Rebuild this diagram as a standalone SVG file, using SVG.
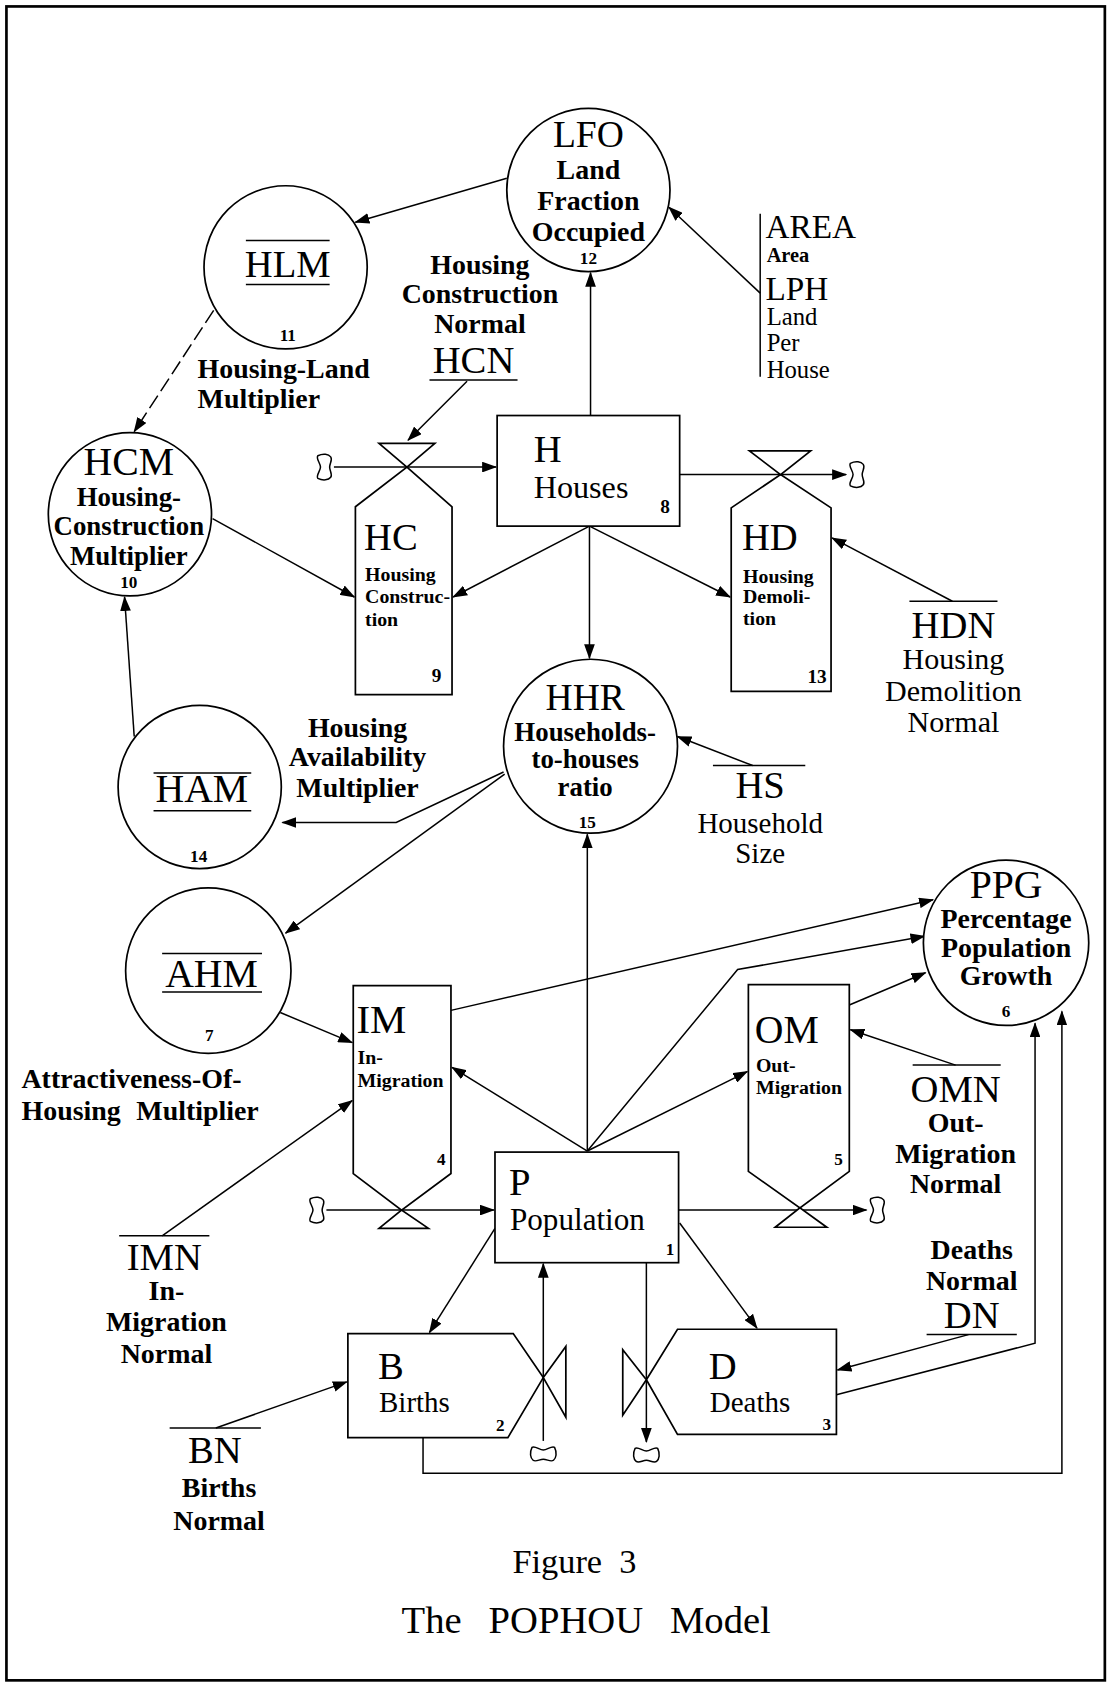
<svg xmlns="http://www.w3.org/2000/svg" width="1107" height="1684" viewBox="0 0 1107 1684">
<defs>
<style>
text{font-family:'Liberation Serif','Times New Roman',serif;fill:#000}
.c{font-size:36px}
.l{font-size:26px;font-weight:bold}
.r{font-size:28px}
.s{font-size:18.5px;font-weight:bold}
.n{font-size:16px;font-weight:bold}
.m{text-anchor:middle}
.ln{fill:none;stroke:#000;stroke-width:1.4}
.a{marker-end:url(#ah)}
.sh{fill:#fff;stroke:#000;stroke-width:1.6}
.d{stroke-dasharray:14 5}
</style>
<marker id="ah" markerWidth="14" markerHeight="10" refX="13" refY="5" orient="auto" markerUnits="userSpaceOnUse"><path d="M0,0 L14,5 L0,10 Z" fill="#000"/></marker>
<path id="cl" d="M-6,-10.5 C-1,-13 4,-12 6,-9.5 C8,-7 5,-3.5 5,0 C5,3.5 8,7 6,9.5 C4,12 -1,13 -6,10.5 C-8,8 -3.5,3.5 -3.5,0 C-3.5,-3.5 -8,-8 -6,-10.5 Z" fill="#fff" stroke="#000" stroke-width="1.4"/>
</defs>
<rect width="1107" height="1684" fill="#fff"/>
<g transform="scale(1.07371)">
<rect x="6" y="6" width="1023" height="1559" fill="none" stroke="#000" stroke-width="2.5"/>
<g id="connectors">
<path class="ln a" d="M550,387 L550,254"/>
<path class="ln a" d="M472,166 L331,207"/>
<path class="ln a" d="M708,273 L623,193"/>
<path class="ln a d" d="M199,289 L125,402"/>
<path class="ln a" d="M435,355 L380,410"/>
<path class="ln a" d="M198,483 L330,556"/>
<path class="ln a" d="M549,490 L422,556"/>
<path class="ln a" d="M549,490 L680,556"/>
<path class="ln a" d="M549,490 L549,613"/>
<path class="ln a" d="M887,560 L775,501"/>
<path class="ln a" d="M701,713 L631,686"/>
<path class="ln a" d="M125,686 L116,556"/>
<path class="ln a" d="M469,719 L369,766 L263,766"/>
<path class="ln a" d="M470,721 L266,869"/>
<path class="ln a" d="M261,943 L328,971"/>
<path class="ln a" d="M151,1151 L328,1025"/>
<path class="ln a" d="M547,1072 L421,994"/>
<path class="ln a" d="M547,1072 L696,998"/>
<path class="ln a" d="M547,1072 L547,777"/>
<path class="ln a" d="M547,1072 L687,903 L861,872"/>
<path class="ln a" d="M420,941 L869,838"/>
<path class="ln a" d="M791,936 L862,906"/>
<path class="ln a" d="M890,992 L792,959"/>
<path class="ln a" d="M461,1144 L400,1241"/>
<path class="ln a" d="M633,1139 L705,1237"/>
<path class="ln a" d="M201,1330 L323,1287"/>
<path class="ln a" d="M902,1243 L780,1276"/>
<path class="ln a" d="M779,1299 L964,1251 L964,953"/>
<path class="ln a" d="M394,1339 L394,1372 L989,1372 L989,942"/>
<path class="ln a" d="M311,435 L462,435"/>
<path class="ln a" d="M632,442 L788,442"/>
<path class="ln a" d="M304,1127 L460,1127"/>
<path class="ln a" d="M632,1127 L807,1127"/>
<path class="ln a" d="M506,1342 L506,1177"/>
<path class="ln a" d="M602,1176 L602,1343"/>
</g>
<g id="clouds">
<use href="#cl" x="302" y="435"/>
<use href="#cl" x="798" y="442"/>
<use href="#cl" x="295" y="1127"/>
<use href="#cl" x="817" y="1127"/>
<use href="#cl" transform="translate(506,1354) rotate(90)"/>
<use href="#cl" transform="translate(602,1355) rotate(90)"/>
</g>
<g id="LFO">
<circle class="sh" cx="548" cy="177" r="76"/>
<text class="c m" x="548" y="137" style="font-size:35px">LFO</text>
<text class="l m" x="548" y="167">Land</text>
<text class="l m" x="548" y="196">Fraction</text>
<text class="l m" x="548" y="224">Occupied</text>
<text class="n m" x="548" y="246">12</text>
</g>
<g id="HLM">
<circle class="sh" cx="266" cy="249" r="76"/>
<line class="ln" x1="229" y1="224" x2="307" y2="224"/>
<text class="c m" x="268" y="258">HLM</text>
<line class="ln" x1="229" y1="265" x2="307" y2="265"/>
<text class="n m" x="268" y="318">11</text>
<text class="l" x="184" y="352">Housing-Land</text>
<text class="l" x="184" y="380">Multiplier</text>
</g>
<g id="AREA">
<line class="ln" x1="708" y1="199" x2="708" y2="351"/>
<text class="c" x="713" y="222" style="font-size:31px">AREA</text>
<text x="714" y="244" style="font-size:19px;font-weight:bold">Area</text>
<text class="c" x="713" y="279" style="font-size:31px">LPH</text>
<text x="714" y="303" style="font-size:23px">Land</text>
<text x="714" y="327" style="font-size:23px">Per</text>
<text x="714" y="352" style="font-size:23px">House</text>
</g>
<g id="HCN">
<text class="l m" x="447" y="255">Housing</text>
<text class="l m" x="447" y="282">Construction</text>
<text class="l m" x="447" y="310">Normal</text>
<text class="c m" x="441" y="347">HCN</text>
<line class="ln" x1="400" y1="354" x2="482" y2="354"/>
</g>
<g id="HCM">
<circle class="sh" cx="121" cy="479" r="76"/>
<text class="c m" x="120" y="442" style="font-size:37px">HCM</text>
<text class="l m" x="120" y="471" style="font-size:25px">Housing-</text>
<text class="l m" x="120" y="498" style="font-size:25px">Construction</text>
<text class="l m" x="120" y="526" style="font-size:25px">Multiplier</text>
<text class="n m" x="120" y="548">10</text>
</g>
<g id="H">
<rect class="sh" x="463" y="387" width="170" height="103"/>
<text class="c" x="497" y="430">H</text>
<text class="r" x="497" y="464" style="font-size:30px">Houses</text>
<text class="n" x="615" y="478" style="font-size:18px">8</text>
</g>
<g id="HC">
<polygon class="sh" points="331,647 331,472 379,435 421,472 421,647"/>
<polygon class="sh" points="353,413 405,413 379,435"/>
<text class="c" x="339" y="512">HC</text>
<text class="s" x="340" y="541">Housing</text>
<text class="s" x="340" y="562">Construc-</text>
<text class="s" x="340" y="583">tion</text>
<text class="n" x="402" y="635" style="font-size:18px">9</text>
</g>
<g id="HD">
<polygon class="sh" points="681,644 681,473 727,442 774,473 774,644"/>
<polygon class="sh" points="698,420 755,420 727,442"/>
<text class="c" x="691" y="512">HD</text>
<text class="s" x="692" y="543">Housing</text>
<text class="s" x="692" y="562">Demoli-</text>
<text class="s" x="692" y="582">tion</text>
<text class="n" x="752" y="636" style="font-size:18px">13</text>
</g>
<g id="HDN">
<line class="ln" x1="847" y1="560" x2="929" y2="560"/>
<text class="c m" x="888" y="594">HDN</text>
<text class="r m" x="888" y="623">Housing</text>
<text class="r m" x="888" y="653">Demolition</text>
<text class="r m" x="888" y="682">Normal</text>
</g>
<g id="HHR">
<circle class="sh" cx="550" cy="695" r="81"/>
<text class="c m" x="545" y="661" style="font-size:35px">HHR</text>
<text class="l m" x="545" y="690" style="font-size:25px">Households-</text>
<text class="l m" x="545" y="715" style="font-size:25px">to-houses</text>
<text class="l m" x="545" y="741" style="font-size:25px">ratio</text>
<text class="n m" x="547" y="771">15</text>
</g>
<g id="HS">
<line class="ln" x1="664" y1="713" x2="750" y2="713"/>
<text class="c m" x="708" y="743">HS</text>
<text class="r m" x="708" y="776" style="font-size:27px">Household</text>
<text class="r m" x="708" y="804" style="font-size:27px">Size</text>
</g>
<g id="HAM">
<circle class="sh" cx="186" cy="733" r="76"/>
<line class="ln" x1="143" y1="720" x2="234" y2="720"/>
<text class="c m" x="188" y="747" style="font-size:37px">HAM</text>
<line class="ln" x1="143" y1="755" x2="234" y2="755"/>
<text class="n m" x="185" y="803">14</text>
<text class="l m" x="333" y="686">Housing</text>
<text class="l m" x="333" y="713">Availability</text>
<text class="l m" x="333" y="742">Multiplier</text>
</g>
<g id="AHM">
<circle class="sh" cx="194" cy="904" r="77"/>
<line class="ln" x1="151" y1="888" x2="244" y2="888"/>
<text class="c m" x="197" y="919" style="font-size:37px">AHM</text>
<line class="ln" x1="151" y1="924" x2="244" y2="924"/>
<text class="n m" x="195" y="970">7</text>
<text class="l" x="20" y="1013">Attractiveness-Of-</text>
<text class="l" x="20" y="1043" style="word-spacing:8px">Housing Multiplier</text>
</g>
<g id="IM">
<polygon class="sh" points="329,918 420,918 420,1093 374,1127 329,1093"/>
<polygon class="sh" points="353,1144 399,1144 374,1127"/>
<text class="c" x="332" y="962" style="font-size:38px">IM</text>
<text class="s" x="333" y="991">In-</text>
<text class="s" x="333" y="1012">Migration</text>
<text class="n" x="407" y="1085">4</text>
</g>
<g id="OM">
<polygon class="sh" points="697,917 791,917 791,1091 745,1125 697,1091"/>
<polygon class="sh" points="722,1143 770,1143 745,1125"/>
<text class="c" x="703" y="971" style="font-size:37px">OM</text>
<text class="s" x="704" y="998">Out-</text>
<text class="s" x="704" y="1019">Migration</text>
<text class="n" x="777" y="1085">5</text>
</g>
<g id="PPG">
<circle class="sh" cx="937" cy="878" r="77"/>
<text class="c m" x="937" y="836" style="font-size:37px">PPG</text>
<text class="l m" x="937" y="864">Percentage</text>
<text class="l m" x="937" y="891">Population</text>
<text class="l m" x="937" y="917">Growth</text>
<text class="n m" x="937" y="947">6</text>
</g>
<g id="OMN">
<line class="ln" x1="850" y1="992" x2="932" y2="992"/>
<text class="c m" x="890" y="1026">OMN</text>
<text class="l m" x="890" y="1054">Out-</text>
<text class="l m" x="890" y="1083">Migration</text>
<text class="l m" x="890" y="1111">Normal</text>
</g>
<g id="P">
<rect class="sh" x="461" y="1073" width="171" height="103"/>
<text class="c" x="474" y="1113">P</text>
<text class="r" x="475" y="1146" style="font-size:29px">Population</text>
<text class="n" x="620" y="1169">1</text>
</g>
<g id="IMN">
<line class="ln" x1="111" y1="1151" x2="195" y2="1151"/>
<text class="c m" x="153" y="1183">IMN</text>
<text class="l m" x="155" y="1211">In-</text>
<text class="l m" x="155" y="1240">Migration</text>
<text class="l m" x="155" y="1269">Normal</text>
</g>
<g id="DN">
<text class="l m" x="905" y="1173">Deaths</text>
<text class="l m" x="905" y="1201">Normal</text>
<text class="c m" x="905" y="1237">DN</text>
<line class="ln" x1="863" y1="1243" x2="947" y2="1243"/>
</g>
<g id="B">
<polygon class="sh" points="324,1242 478,1242 506,1283 473,1339 324,1339"/>
<polygon class="sh" points="527,1254 527,1320 506,1283"/>
<text class="c" x="352" y="1284">B</text>
<text class="r" x="353" y="1315" style="font-size:27px">Births</text>
<text class="n" x="462" y="1333">2</text>
</g>
<g id="D">
<polygon class="sh" points="602,1285 631,1238 779,1238 779,1336 631,1336"/>
<polygon class="sh" points="580,1257 580,1318 602,1285"/>
<text class="c" x="660" y="1284">D</text>
<text class="r" x="661" y="1315" style="font-size:27px">Deaths</text>
<text class="n" x="766" y="1332">3</text>
</g>
<g id="BN">
<line class="ln" x1="158" y1="1330" x2="243" y2="1330"/>
<text class="c m" x="200" y="1363">BN</text>
<text class="l m" x="204" y="1394">Births</text>
<text class="l m" x="204" y="1425">Normal</text>
</g>
<g id="caption">
<text class="m" x="535" y="1465" style="font-size:32px;word-spacing:8px">Figure 3</text>
<text class="m" x="546" y="1521" style="font-size:36px;word-spacing:16px">The POPHOU Model</text>
</g>
</g>
</svg>
